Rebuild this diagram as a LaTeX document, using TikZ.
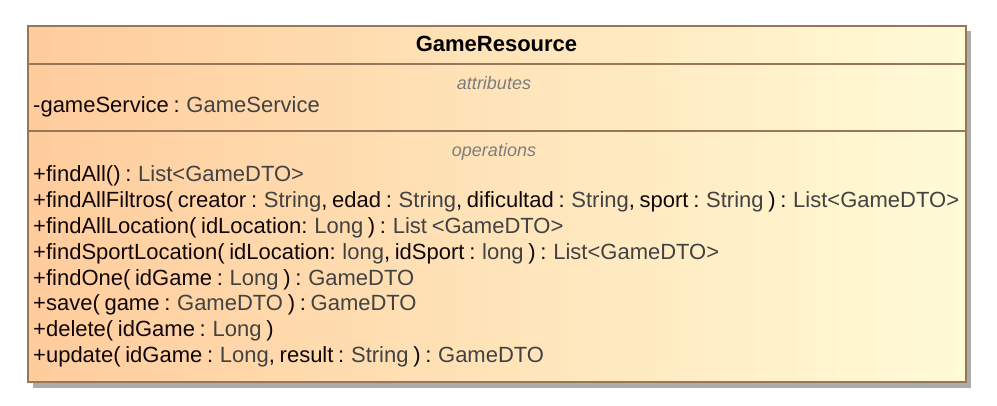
\documentclass[tikz,border=0pt]{standalone}
\usepackage{fontspec}
\setmainfont[WordSpace=0.77]{Liberation Sans}
\usepackage{tikz}
\usetikzlibrary{positioning,shadows}
\definecolor{umlorange}{RGB}{255,204,156}
\definecolor{umlyellow}{RGB}{255,251,214}
\definecolor{umlborder}{RGB}{152,118,88}
\definecolor{umlshadow}{RGB}{172,172,172}
\definecolor{umlname}{RGB}{16,6,10}
\definecolor{umltype}{RGB}{66,66,66}
\definecolor{umlcomp}{RGB}{125,125,125}
\newcommand{\ty}[1]{\textcolor{umltype}{#1}}

\begin{document}
\begin{tikzpicture}[x=1pt, y=-1pt,
  classbox/.style={draw=umlborder, line width=2pt, left color=umlorange, right color=umlyellow,
    drop shadow={shadow xshift=5.5pt, shadow yshift=-5.5pt, fill=umlshadow, opacity=1}},
  divider/.style={draw=umlborder, line width=2pt},
  member/.style={anchor=base west, inner sep=0pt, text=umlname, font=\fontsize{22}{26}\selectfont},
  comp/.style={anchor=base, inner sep=0pt, text=umlcomp, font=\itshape\fontsize{18}{22}\selectfont}]
\useasboundingbox (0,0) rectangle (997,406);
% la classe
\node[classbox, minimum width=938pt, minimum height=356pt, inner sep=0pt] (cls) at (496.5,204) {};
\node[anchor=base, inner sep=0pt, font=\bfseries\fontsize{22}{26}\selectfont] (title) at (496.5,51.5) {GameResource};
% compartimenti
\coordinate (divA) at (0,64);
\coordinate (divB) at (0,131.5);
\draw[divider] (cls.west |- divA) -- (cls.east |- divA);
\draw[divider] (cls.west |- divB) -- (cls.east |- divB);
\node[comp] (attrs) at (494,90) {attributes};
\node[comp] (opers) at (494,157) {operations};
% attributo
\node[member] (att0) at (33,113) {-gameService : \ty{GameService}};
% operazioni
\foreach \i/\op in {
  0/{+findAll() : \ty{List<GameDTO>}},
  1/{+findAllFiltros( creator : \ty{String}, edad : \ty{String}, dificultad : \ty{String}, sport : \ty{String} ) : \ty{List<GameDTO>}},
  2/{+findAllLocation( idLocation: \ty{Long} ) : \ty{List <GameDTO>}},
  3/{+findSportLocation( idLocation: \ty{long}, idSport : \ty{long} ) : \ty{List<GameDTO>}},
  4/{+findOne( idGame : \ty{Long} ) : \ty{GameDTO}},
  5/{+save( game : \ty{GameDTO} ) : \ty{GameDTO}},
  6/{+delete( idGame : \ty{Long} )},
  7/{+update( idGame : \ty{Long}, result : \ty{String} ) : \ty{GameDTO}}}{
  \node[member] (op\i) at (33,181.7+25.86*\i) {\op};
}
\end{tikzpicture}
\end{document}
